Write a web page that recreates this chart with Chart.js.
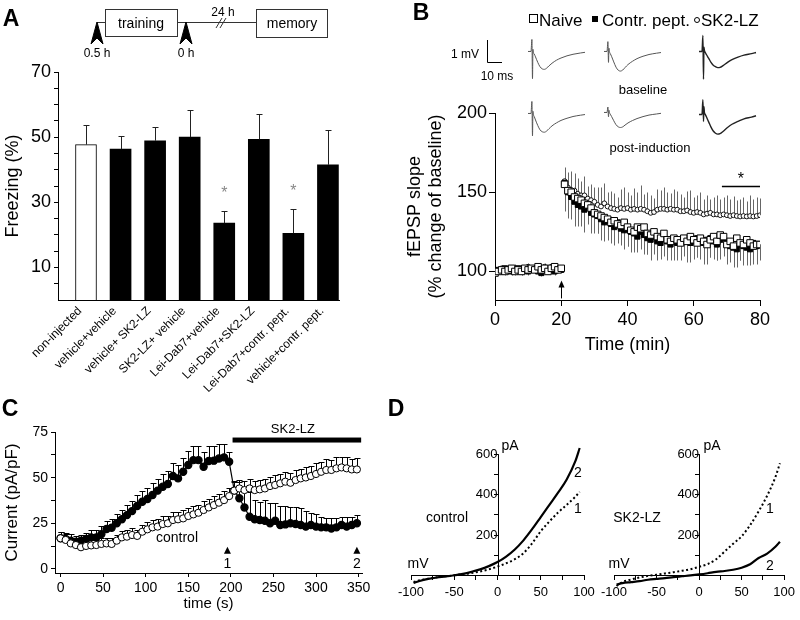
<!DOCTYPE html>
<html><head><meta charset="utf-8">
<script src="https://cdn.jsdelivr.net/npm/chart.js@4.4.1/dist/chart.umd.min.js"></script>
<style>
html,body{margin:0;padding:0;background:#fff;}
#wrap{position:relative;width:800px;height:620px;overflow:hidden;font-family:"Liberation Sans",Arial,sans-serif;color:#000;}
canvas{position:absolute;}
.t{position:absolute;white-space:nowrap;transform:translate(-50%,-50%);line-height:1;}
.tl{position:absolute;white-space:nowrap;transform:translateY(-50%);line-height:1;}
.pl{font-weight:bold;font-size:23px;}
</style></head><body><div id="wrap">
<canvas id="cA" width="800" height="620" style="left:0;top:0"></canvas>
<canvas id="cB" width="800" height="620" style="left:0;top:0"></canvas>
<canvas id="cC" width="800" height="620" style="left:0;top:0"></canvas>
<canvas id="cD1" width="800" height="620" style="left:0;top:0"></canvas>
<canvas id="cD2" width="800" height="620" style="left:0;top:0"></canvas>
<canvas id="tr1" width="60" height="48" style="left:528px;top:34px"></canvas>
<canvas id="tr2" width="60" height="48" style="left:604px;top:34px"></canvas>
<canvas id="tr3" width="60" height="48" style="left:699px;top:34px"></canvas>
<canvas id="tr4" width="60" height="48" style="left:528px;top:96px"></canvas>
<canvas id="tr5" width="60" height="48" style="left:604px;top:95px"></canvas>
<canvas id="tr6" width="60" height="48" style="left:699px;top:97px"></canvas>
<svg width="800" height="620" style="position:absolute;left:0;top:0" fill="none" stroke="#333" stroke-width="1">
  <rect x="105.5" y="9.5" width="72" height="27"/>
  <rect x="256.5" y="9.5" width="71" height="28"/>
  <line x1="97" y1="22.5" x2="105" y2="22.5"/>
  <line x1="177.5" y1="22.5" x2="256" y2="22.5"/>
  <line x1="216" y1="28" x2="222" y2="18"/>
  <line x1="220" y1="28" x2="226" y2="18"/>
  <polygon points="97,22 91,44 97,38 103,44" fill="#000" stroke="#000"/>
  <polygon points="186,22 180,44 186,38 192,44" fill="#000" stroke="#000"/>
  <polyline points="487.5,40 487.5,62.5 502,62.5" stroke="#000"/>
</svg>
<div class="t pl" style="left:11px;top:18px">A</div>
<div class="t pl" style="left:421px;top:12px">B</div>
<div class="t pl" style="left:10px;top:408px">C</div>
<div class="t pl" style="left:396px;top:408px">D</div>
<div class="t" style="left:141px;top:23px;font-size:14px">training</div>
<div class="t" style="left:292px;top:23px;font-size:14px">memory</div>
<div class="t" style="left:223px;top:12px;font-size:12px">24 h</div>
<div class="t" style="left:97px;top:53px;font-size:12px">0.5 h</div>
<div class="t" style="left:186px;top:53px;font-size:12px">0 h</div>
<span style="position:absolute;left:529px;top:14px;width:7px;height:7px;border:1px solid #000;background:#fff"></span>
<div class="tl" style="left:539px;top:20px;font-size:17px">Naive</div>
<span style="position:absolute;left:592px;top:16px;width:6px;height:6px;background:#000"></span>
<div class="tl" style="left:602px;top:20px;font-size:17px">Contr. pept.</div>
<span style="position:absolute;left:694px;top:17px;width:4px;height:4px;border:1px solid #000;border-radius:50%"></span>
<div class="tl" style="left:701px;top:20px;font-size:17px">SK2-LZ</div>
<div class="t" style="left:465px;top:54px;font-size:12px">1 mV</div>
<div class="t" style="left:497px;top:76px;font-size:12px">10 ms</div>
<div class="t" style="left:643px;top:89px;font-size:13px">baseline</div>
<div class="t" style="left:650px;top:147px;font-size:13px">post-induction</div>
<div class="t" style="left:177px;top:537px;font-size:14px">control</div>
<div class="t" style="left:510px;top:445px;font-size:14px">pA</div>
<div class="t" style="left:712px;top:445px;font-size:14px">pA</div>
<div class="t" style="left:418px;top:563px;font-size:14px">mV</div>
<div class="t" style="left:619px;top:563px;font-size:14px">mV</div>
<div class="t" style="left:447px;top:517px;font-size:14px">control</div>
<div class="t" style="left:637px;top:517px;font-size:14px">SK2-LZ</div>
<div class="t" style="left:578px;top:472px;font-size:14px">2</div>
<div class="t" style="left:578px;top:508px;font-size:14px">1</div>
<div class="t" style="left:770px;top:508px;font-size:14px">1</div>
<div class="t" style="left:770px;top:565px;font-size:14px">2</div>
</div>
<script>
// ---------- Panel A data ----------
const groups = ['non-injected','vehicle+vehicle','vehicle+ SK2-LZ','SK2-LZ+ vehicle','Lei-Dab7+vehicle','Lei-Dab7+SK2-LZ','Lei-Dab7+contr. pept.','vehicle+contr. pept.'];
const freezing = [47.7, 46.3, 48.9, 50.0, 23.6, 49.3, 20.5, 41.5];
const freezingSem = [6.1, 4.1, 4.1, 8.2, 3.6, 7.8, 7.3, 10.7];
const significant = [false, false, false, false, true, false, true, false];
const freezingTicks = [5,10,15,20,25,30,35,40,45,50,55,60,65,70];
const freezingLabels = [10,30,50,70];

// ---------- Panel B data ----------
const timeMin = [0,1,2,3,4,5,6,7,8,9,10,11,12,13,14,15,16,17,18,19,20,
 21,22,23,24,25,26,27,28,29,30,31,32,33,34,35,36,37,38,39,40,
 41,42,43,44,45,46,47,48,49,50,51,52,53,54,55,56,57,58,59,60,
 61,62,63,64,65,66,67,68,69,70,71,72,73,74,75,76,77,78,79,80];
const naive = [99,100,101,100,101,102,100,101,100,102,101,102,101,103,101,102,100,102,103,101,102,
 155,151,150,147,146,145,143,142,140,137, 136,135,134,133,131,132,130,129,131,128,
 126,125,128,127,128,124,123,125,122,121, 124,120,119,121,120,118,121,119,122,120,
 118,121,119,117,120,122,119,123,122,117, 119,116,121,118,117,120,118,116,117,117];
const contrPept = [100,101,100,102,101,100,101,102,100,101,100,102,101,100,99,101,102,101,100,102,101,
 156,150,147,144,142,141,139,142,137,136, 135,133,131,132,130,128,131,127,126,127,
 125,124,122,125,123,121,120,122,119,118, 121,119,117,120,118,119,121,120,118,119,
 121,119,118,120,121,119,117,120,121,118, 116,115,114,117,116,115,114,118,116,117];
const sk2lz = [99,100,102,101,100,101,102,101,102,101,103,101,102,102,101,103,102,103,102,101,101,
 157,153,151.5,151,149,148,148,146,145,144, 142,141,143,141,140,139.5,139,140,139.5,140,
 139,139.5,139,139.5,139,138,137,137.5,139,139.5, 139.5,139,139.5,139,139,138,138,138.5,137.5,137,
 137.5,137,136,136.5,137,136,136,135.5,136,135.5, 135,135.5,135,134.7,135,134.7,135,134.7,135,135.5];
const naiveErr = [2,1.5,2,2.5,2,1.5,2,2,2.5,2,1.5,2,2,2.5,2,2,1.5,2,2.5,2,2,
 10,12,14,11,10,13,9,12,11,10, 12,9,11,13,10,12,11,9,10,12,
 11,10,12,9,11,13,10,12,11,9, 10,12,11,9,12,10,11,13,10,12,
 9,11,10,12,11,9,12,10,11,9, 10,12,9,11,10,12,9,11,10,9];
const contrErr = [2,2,1.5,2,2.5,2,2,1.5,2,2,2.5,2,2,1.5,2,2,2.5,2,2,1.5,2,
 18,16,14,15,13,12,14,11,13,12, 11,13,12,10,12,11,13,10,12,11,
 13,12,10,11,12,10,13,11,12,10, 11,12,10,13,11,12,10,11,12,10,
 12,11,13,10,12,11,10,12,11,13, 10,12,11,10,12,11,10,12,11,10];
const sk2Err = [2,2.5,2,1.5,2,2,2.5,2,2,1.5,2.5,2,2,2,1.5,2.5,2,2,2,1.5,2,
 9,10,12,11,10,9,12,8,10,9, 11,12,13,9,11,10,8,12,14,10,
 9,13,11,15,10,12,11,9,13,12, 14,11,10,13,12,11,9,12,14,10,
 11,13,10,12,9,11,12,10,11,13, 11,12,10,11,12,10,13,11,12,11];
const fepspTicks = [100,150,200];
const timeMinTicks = [0,20,40,60,80];

// traces (ms, mV)
const traceT = [0,2,2.6,3.0,3.3,3.6,4.2,5,6.5,8,9.5,11,12.5,14,16,19,22,26,30,35,38];
const trNaiveBase = [0,0,0.55,-1.25,0.1,-0.05,-0.12,-0.25,-0.5,-0.7,-0.8,-0.82,-0.76,-0.66,-0.54,-0.4,-0.3,-0.2,-0.13,-0.07,-0.04];
const trContrBase = [0,0,0.45,-0.5,0.15,0,-0.1,-0.22,-0.48,-0.72,-0.86,-0.9,-0.85,-0.74,-0.6,-0.45,-0.33,-0.22,-0.14,-0.08,-0.05];
const trSk2Base = [0,0,0.73,-1.27,0.2,0.05,-0.05,-0.15,-0.32,-0.5,-0.63,-0.7,-0.74,-0.73,-0.65,-0.5,-0.38,-0.26,-0.17,-0.1,-0.05];
const trNaivePost = [0,0,0.55,-1.03,0.1,-0.05,-0.15,-0.3,-0.55,-0.75,-0.84,-0.86,-0.8,-0.7,-0.57,-0.43,-0.32,-0.22,-0.14,-0.08,-0.05];
const trContrPost = [0,0,0.25,-0.2,0.1,0,-0.08,-0.18,-0.38,-0.56,-0.66,-0.69,-0.66,-0.58,-0.48,-0.37,-0.28,-0.19,-0.12,-0.07,-0.04];
const trSk2Post = [0,0,0.68,-0.32,0.35,0.1,0,-0.12,-0.35,-0.58,-0.76,-0.86,-0.9,-0.88,-0.78,-0.6,-0.45,-0.32,-0.2,-0.12,-0.06];

// ---------- Panel C data ----------
const timeS = [0,6,12,18,24,30,36,42,48,54,60,66,72,78,84,90,96,102,108,114,120,126,132,138,144,150,156,162,168,174,
 180,186,192,198,204,210,216,222,228,234,240,246,252,258,264,270,276,282,288,294,300,306,312,318,324,330,336,342,348];
const currSK2 = [16.8,16.4,15.5,15.0,15.5,16.4,17.3,17.3,19.1,21.9, 22.6,25,27.2,29.5,31.7,34.5,36.8,38.3,40.5,42.9,
 45,46.5,50.9,49.6,53.2,56.9,59.6,59.6,56,59.1, 59.3,60.5,61.1,58.7,42.9,38.7,33.7,28.6,27.2,26.8,
 26.4,25,26.4,24.1,24.4,25,24.6,24.1,23.2,24.1, 23.2,22.8,22.8,22.2,22.8,24.1,23.2,24.1,25];
const currSK2Err = [3.6,3.5,3.4,3.2,3.3,3.5,3.8,4,4.2,4.5, 4.8,5,5.2,5.4,5.6,5.8,6,6.2,6.4,6.6,
 6.8,7,7,7.2,7.4,7.6,7.8,8,8,8.2, 8.2,8.2,7.6,5.5,4.9,9.1,11.3,13.7,10.7,10.1,
 11.5,11,9.6,10.5,9.9,8.9,9.3,9.3,8.8,6.4, 6.8,5.9,4.9,5.5,4.9,4.5,5.5,4.6,4.6];
const currCtrl = [16.8,15.9,14,13.1,11.9,12.6,12.9,13.1,13.7,14, 13.7,15.5,17.3,17.7,18.6,18.1,20.4,21.7,22.8,23.2,
 24.6,25,26.8,27.2,27.7,29,29.9,30.8,32.3,33.7, 35,36.3,37.7,39.9,42.9,44.1,43.2,44.1,43.2,43.6,
 44.1,45.4,46,46.9,47.8,47.2,48.7,49.6,50.1,50.9, 52,53.2,54.2,54.2,55.1,55.6,55.1,54.5,54.5];
const currCtrlErr = [3.5,3.1,3,2.7,2.9,2.8,3.1,3,3.2,3.1, 3.4,3.3,3.6,3.4,3.7,3.5,3.9,3.8,4.1,3.9,
 4.2,4.0,4.4,4.2,4.5,4.3,4.6,4.4,4.7,4.5, 4.8,4.6,4.9,4.7,5.0,4.8,5.1,4.9,5.2,5.0,
 5.3,5.1,5.4,5.2,5.5,5.3,5.6,5.4,5.7,5.5, 5.8,5.6,5.9,5.7,6.0,5.8,6.1,5.9,6.0];
const currTicks = [0,12.5,25,37.5,50,62.5,75];
const currLabels = [0,25,50,75];
const timeSTicks = [0,50,100,150,200,250,300,350];
const sk2Window = [202, 353];
const markTimes = [196, 348];
const markLabels = ['1','2'];

// ---------- Panel D data ----------
const mV = [-97,-90,-80,-70,-60,-50,-40,-30,-20,-10,0,10,20,30,40,50,60,70,80,90,95];
const ctrl2 = [-35,-25,-15,-8,-3,3,10,20,32,48,68,95,130,175,230,290,350,410,475,565,630];
const ctrl1 = [-30,-22,-14,-7,-2,3,8,14,22,32,46,62,82,112,160,220,268,312,350,390,414];
const sk1 = [-50,-30,-18,-8,0,6,12,18,25,33,45,58,82,120,158,195,250,318,395,490,555];
const sk2 = [-43,-36,-31,-26,-19,-15,-11,-6,-2,2,7,13,20,24,30,40,57,88,110,145,168];
const ivXTicks = [-100,-75,-50,-25,0,25,50,75,100];
const ivXLabels = [-100,-50,0,50,100];
const ivYTicks = [100,200,300,400,500,600];
const ivYLabels = [200,400,600];

// ---------- setup ----------
Chart.defaults.font.family = '"Liberation Sans", Arial, sans-serif';
Chart.defaults.color = '#000';
Chart.defaults.borderColor = '#000';
Chart.defaults.animation = false;
Chart.defaults.events = [];
Chart.defaults.plugins.legend.display = false;
Chart.defaults.plugins.tooltip.enabled = false;

function drawErr(chart) {
  const ctx = chart.ctx;
  chart.data.datasets.forEach((ds, di) => {
    if (!ds.errUp && !ds.errDown) return;
    const meta = chart.getDatasetMeta(di);
    const ys = chart.scales[meta.yAxisID];
    ctx.save();
    ctx.strokeStyle = ds.errColor || '#000';
    ctx.lineWidth = ds.errWidth || 1;
    meta.data.forEach((el, i) => {
      const d = ds.data[i];
      const v = (typeof d === 'object') ? d.y : d;
      const x = Math.round(el.x) + 0.5;
      const y0 = ys.getPixelForValue(v);
      const ends = [];
      if (ds.errUp) ends.push(ys.getPixelForValue(v + ds.errUp[i]));
      if (ds.errDown) ends.push(ys.getPixelForValue(v - ds.errDown[i]));
      ends.forEach(y1 => {
        y1 = Math.round(y1) + 0.5;
        ctx.beginPath(); ctx.moveTo(x, y0); ctx.lineTo(x, y1); ctx.stroke();
        if (ds.capW) { ctx.beginPath(); ctx.moveTo(x - ds.capW / 2, y1); ctx.lineTo(x + ds.capW / 2, y1); ctx.stroke(); }
      });
    });
    ctx.restore();
  });
}
const errorBars = {
  id: 'errorBars',
  beforeDatasetsDraw(chart, a, o) { if (o.behind) drawErr(chart); },
  afterDatasetsDraw(chart, a, o) { if (!o.behind) drawErr(chart); }
};
const fixTicks = arr => s => { s.ticks = arr.map(v => ({ value: v })); };

// ---------- Chart A ----------
const starsA = {
  id: 'starsA',
  afterDatasetsDraw(chart) {
    const ctx = chart.ctx, meta = chart.getDatasetMeta(0), y = chart.scales.y;
    ctx.save(); ctx.fillStyle = '#888'; ctx.font = '16px "Liberation Sans", Arial'; ctx.textAlign = 'center'; ctx.textBaseline = 'middle';
    significant.forEach((s, i) => { if (s) ctx.fillText('*', meta.data[i].x, y.getPixelForValue(freezing[i] + freezingSem[i]) - 18); });
    ctx.restore();
  }
};
new Chart(document.getElementById('cA'), {
  type: 'bar',
  data: { datasets: [{
    data: freezing.map((v, i) => ({ x: i, y: v })),
    backgroundColor: freezing.map((v, i) => i === 0 ? '#fff' : '#000'),
    borderColor: '#000', borderWidth: freezing.map((v, i) => i === 0 ? 1 : 0),
    barThickness: 21, errUp: freezingSem, errColor: '#222', capW: 6
  }]},
  options: {
    responsive: false,
    layout: { autoPadding: false, padding: { left: 0, top: 72, right: 461, bottom: 220 } },
    scales: {
      x: { type: 'linear', offset: false, min: -0.81, max: 7.32, afterFit: s => { s.height = 100; }, afterBuildTicks: fixTicks(groups.map((g, i) => i)),
        grid: { display: false, drawTicks: false }, border: { color: '#000' },
        ticks: { callback: v => groups[v], minRotation: 45, maxRotation: 45, autoSkip: false, padding: 4, labelOffset: -6, font: { size: 12 } } },
      y: { min: 0, max: 70, afterFit: s => { s.width = 58; }, afterBuildTicks: fixTicks(freezingTicks),
        grid: { drawOnChartArea: false, tickLength: 4, color: '#000' }, border: { color: '#000' },
        ticks: { autoSkip: false, callback: v => freezingLabels.includes(v) ? String(v) : '', font: { size: 18 }, padding: 3 },
        title: { display: true, text: 'Freezing (%)', font: { size: 18 }, padding: { top: 2, bottom: 0 } } }
    },
    plugins: { errorBars: { behind: false } }
  },
  plugins: [errorBars, starsA]
});

// ---------- Chart B ----------
const annB = {
  id: 'annB',
  afterDatasetsDraw(chart) {
    const ctx = chart.ctx, x = chart.scales.x, y = chart.scales.y;
    ctx.save(); ctx.strokeStyle = '#000'; ctx.fillStyle = '#000'; ctx.lineWidth = 1;
    const ax = Math.round(x.getPixelForValue(20)) + 0.5, yb = y.getPixelForValue(83), yt = y.getPixelForValue(93);
    ctx.beginPath(); ctx.moveTo(ax, yb); ctx.lineTo(ax, yt + 4); ctx.stroke();
    ctx.beginPath(); ctx.moveTo(ax, yt - 2); ctx.lineTo(ax - 3, yt + 5); ctx.lineTo(ax + 3, yt + 5); ctx.closePath(); ctx.fill();
    const sy = Math.round(y.getPixelForValue(154)) + 0.5;
    ctx.lineWidth = 1.5;
    ctx.beginPath(); ctx.moveTo(x.getPixelForValue(68.5), sy); ctx.lineTo(x.getPixelForValue(80), sy); ctx.stroke();
    ctx.font = '16px "Liberation Sans", Arial'; ctx.textAlign = 'center'; ctx.textBaseline = 'middle';
    ctx.fillText('*', x.getPixelForValue(74.2), sy - 7);
    ctx.restore();
  }
};
const ptsB = arr => timeMin.map((t, i) => ({ x: t, y: arr[i] }));
new Chart(document.getElementById('cB'), {
  type: 'scatter',
  data: { datasets: [
    { data: ptsB(naive), pointStyle: 'rect', pointRadius: 4.6, backgroundColor: '#fff', borderColor: '#000', borderWidth: 1, errDown: naiveErr, errColor: '#666' },
    { data: ptsB(contrPept), pointStyle: 'rect', pointRadius: 3.6, backgroundColor: '#000', borderColor: '#000', borderWidth: 1, errDown: contrErr, errColor: '#666' },
    { data: ptsB(sk2lz), pointStyle: 'circle', pointRadius: 2.4, backgroundColor: '#fff', borderColor: '#000', borderWidth: 0.9, errUp: sk2Err, errColor: '#666' }
  ]},
  options: {
    responsive: false,
    layout: { autoPadding: false, padding: { left: 400, top: 113, right: 40, bottom: 260 } },
    scales: {
      x: { type: 'linear', min: 0, max: 80, afterFit: s => { s.height = 60; }, afterBuildTicks: fixTicks(timeMinTicks),
        grid: { drawOnChartArea: false, tickLength: 6, color: '#000' }, border: { color: '#000' },
        ticks: { font: { size: 18 }, padding: 3 },
        title: { display: true, text: 'Time (min)', font: { size: 18 }, padding: { top: 0, bottom: 4 } } },
      y: { min: 82, max: 200, afterFit: s => { s.width = 95; }, afterBuildTicks: fixTicks(fepspTicks),
        grid: { drawOnChartArea: false, tickLength: 6, color: '#000' }, border: { color: '#000' },
        ticks: { font: { size: 18 }, padding: 2 },
        title: { display: true, text: ['fEPSP slope', '(% change of baseline)'], font: { size: 18 }, padding: { top: 4, bottom: 0 } } }
    },
    plugins: { errorBars: { behind: true } }
  },
  plugins: [errorBars, annB]
});

// traces
function trace(id, v, color, w) {
  new Chart(document.getElementById(id), {
    type: 'scatter',
    data: { datasets: [{ data: traceT.map((t, i) => ({ x: t, y: v[i] })), showLine: true, pointRadius: 0, borderColor: color, borderWidth: w, clip: false, cubicInterpolationMode: 'monotone' }] },
    options: { responsive: false, layout: { autoPadding: false, padding: 0 },
      scales: { x: { display: false, min: 0, max: 40 }, y: { display: false, min: -1.4, max: 0.8 } } }
  });
}
trace('tr1', trNaiveBase, '#555', 1);
trace('tr2', trContrBase, '#555', 1);
trace('tr3', trSk2Base, '#222', 1.4);
trace('tr4', trNaivePost, '#555', 1);
trace('tr5', trContrPost, '#555', 1);
trace('tr6', trSk2Post, '#222', 1.4);

// ---------- Chart C ----------
const annC = {
  id: 'annC',
  afterDatasetsDraw(chart) {
    const ctx = chart.ctx, x = chart.scales.x, y = chart.scales.y;
    ctx.save(); ctx.fillStyle = '#000';
    const by = y.getPixelForValue(70.6);
    const x0 = x.getPixelForValue(sk2Window[0]), x1 = x.getPixelForValue(sk2Window[1]);
    ctx.fillRect(x0, by - 2.5, x1 - x0, 5);
    ctx.font = '13px "Liberation Sans", Arial'; ctx.textAlign = 'center'; ctx.textBaseline = 'middle';
    ctx.fillText('SK2-LZ', (x0 + x1) / 2 - 4, by - 11);
    ctx.font = '14px "Liberation Sans", Arial';
    markTimes.forEach((t, i) => {
      const px = x.getPixelForValue(t), ty = y.getPixelForValue(12.2);
      ctx.beginPath(); ctx.moveTo(px, ty); ctx.lineTo(px - 3.5, ty + 7); ctx.lineTo(px + 3.5, ty + 7); ctx.closePath(); ctx.fill();
      ctx.fillText(markLabels[i], px, ty + 17);
    });
    ctx.restore();
  }
};
const ptsC = arr => timeS.map((t, i) => ({ x: t, y: arr[i] }));
new Chart(document.getElementById('cC'), {
  type: 'scatter',
  data: { datasets: [
    { data: ptsC(currCtrl), pointStyle: 'circle', pointRadius: 3.6, backgroundColor: '#fff', borderColor: '#000', borderWidth: 1, errUp: currCtrlErr, capW: 6 },
    { data: ptsC(currSK2), pointStyle: 'circle', pointRadius: 3.6, backgroundColor: '#000', borderColor: '#000', borderWidth: 1.2, showLine: true, errUp: currSK2Err, capW: 6 }
  ]},
  options: {
    responsive: false,
    layout: { autoPadding: false, padding: { left: 0, top: 432, right: 438, bottom: 4 } },
    scales: {
      x: { type: 'linear', min: -6.5, max: 354, afterFit: s => { s.height = 43; }, afterBuildTicks: fixTicks(timeSTicks),
        grid: { drawOnChartArea: false, tickLength: 4, color: '#000' }, border: { color: '#000' },
        ticks: { font: { size: 14 }, padding: 3 },
        title: { display: true, text: 'time (s)', font: { size: 15 }, padding: { top: 0, bottom: 3 } } },
      y: { min: -2.2, max: 75, afterFit: s => { s.width = 55; }, afterBuildTicks: fixTicks(currTicks),
        grid: { drawOnChartArea: false, tickLength: 4, color: '#000' }, border: { color: '#000' },
        ticks: { autoSkip: false, callback: v => currLabels.includes(v) ? String(v) : '', font: { size: 14 }, padding: 3 },
        title: { display: true, text: 'Current (pA/pF)', font: { size: 17 }, padding: { top: 2, bottom: 0 } } }
    },
    plugins: { errorBars: { behind: true } }
  },
  plugins: [errorBars, annC]
});

// ---------- Charts D ----------
const ivAxis = {
  id: 'ivAxis',
  afterDatasetsDraw(chart) {
    const ctx = chart.ctx, x = chart.scales.x, y = chart.scales.y;
    const px = Math.round(x.getPixelForValue(0)) + 0.5;
    ctx.save(); ctx.strokeStyle = '#000'; ctx.lineWidth = 1;
    ctx.beginPath(); ctx.moveTo(px, y.getPixelForValue(ivYTicks[ivYTicks.length - 1])); ctx.lineTo(px, y.getPixelForValue(0)); ctx.stroke();
    ctx.restore();
  }
};
function ivChart(id, left, solid, dotted) {
  new Chart(document.getElementById(id), {
    type: 'scatter',
    data: { datasets: [
      { data: mV.map((v, i) => ({ x: v, y: dotted[i] })), showLine: true, pointRadius: 0, borderColor: '#000', borderWidth: 2, borderDash: [2, 2.5], cubicInterpolationMode: 'monotone', clip: false },
      { data: mV.map((v, i) => ({ x: v, y: solid[i] })), showLine: true, pointRadius: 0, borderColor: '#000', borderWidth: 2.2, cubicInterpolationMode: 'monotone', clip: false }
    ]},
    options: {
      responsive: false,
      layout: { autoPadding: false, padding: { left: left, top: 446, right: 800 - left - 173, bottom: 35 } },
      scales: {
        x: { type: 'linear', min: -100, max: 100, position: { y: 0 }, afterBuildTicks: fixTicks(ivXTicks),
          grid: { drawOnChartArea: false, tickLength: 4, color: '#000' }, border: { color: '#000' },
          ticks: { autoSkip: false, minRotation: 0, maxRotation: 0, callback: v => ivXLabels.includes(v) ? String(v) : '', font: { size: 13 }, padding: 5 } },
        y: { min: -45, max: 640, position: { x: 0 }, afterBuildTicks: fixTicks(ivYTicks),
          grid: { drawOnChartArea: false, tickLength: 4, color: '#000' }, border: { display: false },
          ticks: { autoSkip: false, callback: v => ivYLabels.includes(v) ? String(v) : '', font: { size: 13 }, padding: 3 } }
      }
    },
    plugins: [ivAxis]
  });
}
ivChart('cD1', 411, ctrl2, ctrl1);
ivChart('cD2', 614, sk2, sk1);
</script>
</body></html>
